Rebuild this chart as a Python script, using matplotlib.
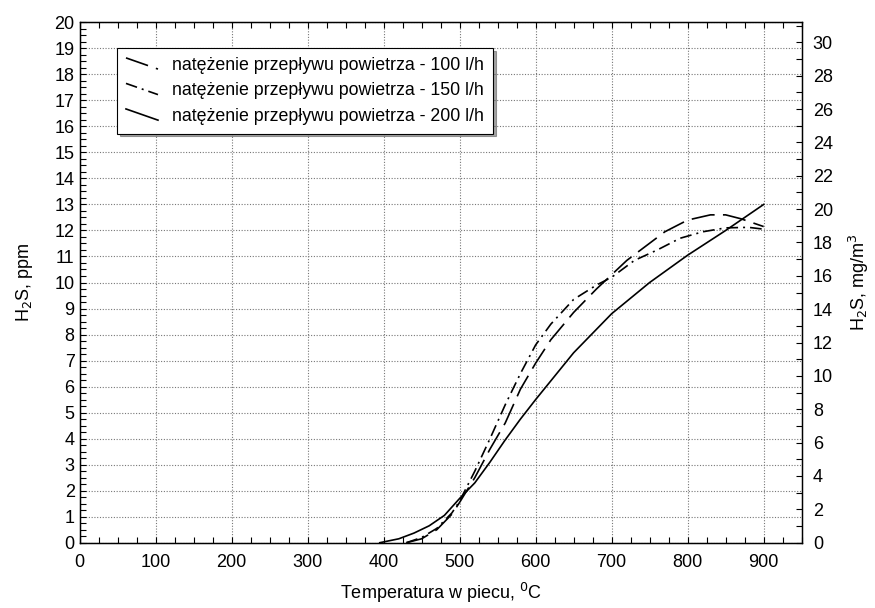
import matplotlib
matplotlib.use('Agg')
import matplotlib.pyplot as plt
import matplotlib.ticker as ticker
from matplotlib.lines import Line2D
from matplotlib.legend_handler import HandlerBase

plt.rcParams['font.family'] = ['Liberation Sans', 'DejaVu Sans']

# temperatura [C] i stezenie H2S [ppm]
temp_100 = [430, 450, 470, 490, 500, 520, 540, 560, 580, 600, 620, 650, 680, 700,
            720, 745, 770, 800, 830, 850, 870, 890, 900]
h2s_100 = [0, 0.15, 0.5, 1.1, 1.55, 2.5, 3.6, 4.6, 5.9, 6.9, 7.8, 8.85, 9.75, 10.3,
           10.85, 11.4, 11.95, 12.4, 12.6, 12.6, 12.45, 12.25, 12.15]

temp_150 = [430, 450, 470, 490, 500, 520, 540, 560, 580, 600, 620, 650, 680, 700,
            730, 760, 790, 820, 850, 880, 900]
h2s_150 = [0, 0.2, 0.55, 1.15, 1.6, 2.75, 4.0, 5.3, 6.5, 7.6, 8.4, 9.35, 9.9, 10.2,
           10.85, 11.25, 11.7, 11.95, 12.1, 12.12, 12.05]

temp_200 = [395, 420, 440, 460, 480, 500, 520, 540, 560, 580, 600, 650, 700, 750,
            800, 850, 900]
h2s_200 = [0, 0.15, 0.37, 0.65, 1.05, 1.7, 2.3, 3.1, 3.95, 4.75, 5.5, 7.3, 8.8, 10.0,
           11.05, 12.0, 13.0]

labels = ['natężenie przepływu powietrza - 100 l/h',
          'natężenie przepływu powietrza - 150 l/h',
          'natężenie przepływu powietrza - 200 l/h']

ppm_to_mg = 1.56  # przelicznik osi prawej


class DiagHandler(HandlerBase):
    # ukosna kreska w legendzie
    def create_artists(self, legend, orig_handle, xdescent, ydescent,
                       width, height, fontsize, trans):
        line = Line2D([-xdescent, width - xdescent],
                      [height * 0.95 - ydescent, height * 0.05 - ydescent])
        line.update_from(orig_handle)
        line.set_transform(trans)
        return [line]


fig = plt.figure(figsize=(8.75, 6.08), dpi=100)
ax = fig.add_axes([0.0909, 0.1074, 0.8253, 0.8559])

l1, = ax.plot(temp_100, h2s_100, color='black', lw=1.2, dashes=(14, 5))
l2, = ax.plot(temp_150, h2s_150, color='black', lw=1.2, dashes=(7, 3, 1.2, 3))
l3, = ax.plot(temp_200, h2s_200, color='black', lw=1.2)

ax.set_xlim(0, 950)
ax.set_ylim(0, 20)
ax.xaxis.set_major_locator(ticker.MultipleLocator(100))
ax.xaxis.set_minor_locator(ticker.MultipleLocator(25))
ax.yaxis.set_major_locator(ticker.MultipleLocator(1))
ax.yaxis.set_minor_locator(ticker.MultipleLocator(0.25))
ax.xaxis.set_major_formatter(ticker.FuncFormatter(lambda v, p: '%d' % v if v <= 900 else ''))
ax.tick_params(which='both', direction='in', top=True, right=False, labelsize=13,
               length=4, width=0.8)
ax.tick_params(axis='x', pad=8)
ax.grid(True, which='major', linestyle=(0, (1, 1.5)), color='#777777', lw=0.8)

ax.set_xlabel('Temperatura w piecu, $^{0}$C', fontsize=13, labelpad=7)
ax.set_ylabel('H$_2$S, ppm', fontsize=13, labelpad=14)

ax2 = ax.twinx()
ax2.set_ylim(0, 20 * ppm_to_mg)
ax2.yaxis.set_major_locator(ticker.MultipleLocator(2))
ax2.yaxis.set_minor_locator(ticker.MultipleLocator(1))
ax2.tick_params(which='both', direction='in', labelsize=13, length=4, width=0.8, pad=8)
ax2.set_ylabel('H$_2$S, mg/m$^3$', fontsize=13, labelpad=10)

for sp in ax.spines.values():
    sp.set_linewidth(1.0)

leg = ax.legend([l1, l2, l3], labels, loc='upper left', bbox_to_anchor=(0.052, 0.951),
                borderaxespad=0, fontsize=12.8, fancybox=False, shadow=True,
                framealpha=1, edgecolor='black', handlelength=1.8, handletextpad=0.8,
                labelspacing=0.48, borderpad=0.5,
                handler_map={Line2D: DiagHandler()})
leg.get_frame().set_linewidth(0.8)

fig.savefig('out.png', dpi=100)
